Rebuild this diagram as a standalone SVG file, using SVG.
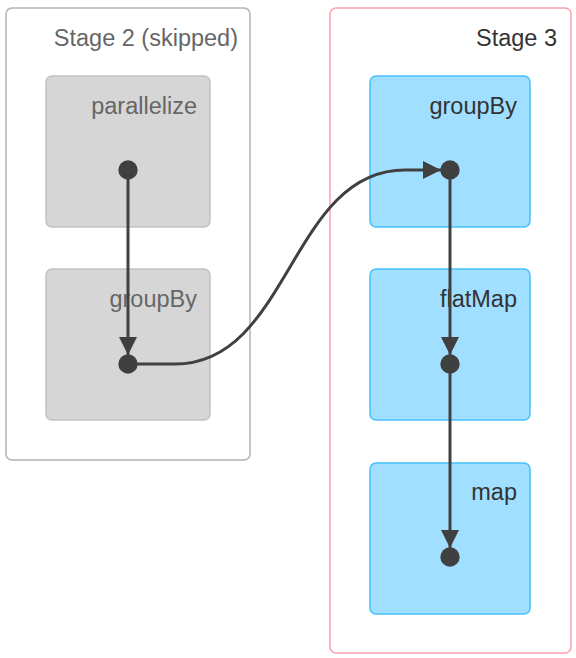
<svg xmlns="http://www.w3.org/2000/svg" width="576" height="658" viewBox="0 0 576 658">
  <style>
    text { font-family: "Liberation Sans", Arial, Helvetica, sans-serif; font-size: 23.5px; text-anchor: end; }
    .cluster-skipped { fill: #ffffff; stroke: #b3b3b3; stroke-width: 1.5; }
    .cluster { fill: #ffffff; stroke: #f7a1ae; stroke-width: 1.5; }
    .node-skipped rect { fill: #d6d6d6; stroke: #c2c2c2; stroke-width: 1.5; }
    .node rect { fill: #a0dfff; stroke: #45c1fb; stroke-width: 1.5; }
    .label-skipped { fill: #666666; }
    .label { fill: #333333; }
    .dot { fill: #404040; }
    .edge { fill: none; stroke: #404040; stroke-width: 3; }
  </style>
  <defs>
    <marker id="arrow" viewBox="0 0 18 18" refX="18" refY="9" markerWidth="18" markerHeight="18" markerUnits="userSpaceOnUse" orient="auto">
      <path d="M0,0 L18,9 L0,18 Z" fill="#404040"/>
    </marker>
  </defs>

  <g id="stage2">
    <rect class="cluster-skipped" x="6" y="8" width="244" height="452" rx="6"/>
    <text class="label-skipped" x="238" y="46">Stage 2 (skipped)</text>
  </g>
  <g id="stage3">
    <rect class="cluster" x="330" y="8" width="241" height="645" rx="6"/>
    <text class="label" x="557" y="46">Stage 3</text>
  </g>

  <g id="s2-parallelize" class="node-skipped">
    <rect x="46" y="76" width="164" height="151" rx="6"/>
    <text class="label-skipped" x="197" y="114">parallelize</text>
    <circle class="dot" cx="128" cy="170" r="9.7"/>
  </g>
  <g id="s2-groupBy" class="node-skipped">
    <rect x="46" y="269" width="164" height="151" rx="6"/>
    <text class="label-skipped" x="197" y="307">groupBy</text>
    <circle class="dot" cx="128" cy="364" r="9.7"/>
  </g>
  <g id="s3-groupBy" class="node">
    <rect x="370" y="76" width="160" height="151" rx="6"/>
    <text class="label" x="517" y="114">groupBy</text>
    <circle class="dot" cx="450" cy="170" r="9.7"/>
  </g>
  <g id="s3-flatMap" class="node">
    <rect x="370" y="269" width="160" height="151" rx="6"/>
    <text class="label" x="517" y="307">flatMap</text>
    <circle class="dot" cx="450" cy="364" r="9.7"/>
  </g>
  <g id="s3-map" class="node">
    <rect x="370" y="463" width="160" height="151" rx="6"/>
    <text class="label" x="517" y="500">map</text>
    <circle class="dot" cx="450" cy="557" r="9.7"/>
  </g>

  <g id="edges">
    <path class="edge" d="M128,170 L128,355" marker-end="url(#arrow)"/>
    <path class="edge" d="M128,364 L175,364 C290,364 290,170 405,170 L441,170" marker-end="url(#arrow)"/>
    <path class="edge" d="M450,170 L450,355" marker-end="url(#arrow)"/>
    <path class="edge" d="M450,364 L450,548" marker-end="url(#arrow)"/>
  </g>
</svg>
